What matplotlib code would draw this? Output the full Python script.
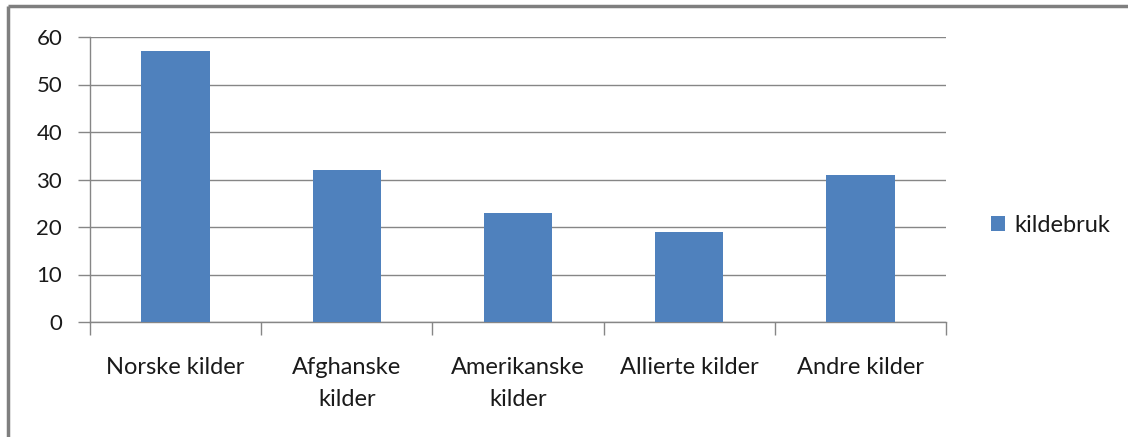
import numpy as np
import matplotlib.pyplot as plt
from matplotlib.patches import Patch

# kildebruk per kategori
categories = ['Norske kilder', 'Afghanske\nkilder', 'Amerikanske\nkilder', 'Allierte kilder', 'Andre kilder']
values = [57, 32, 23, 19, 31]
series_name = 'kildebruk'

bar_color = '#4F81BD'
grid_color = '#868686'
text_color = '#1a1a1a'

plt.rcParams['font.family'] = ['Lato', 'DejaVu Sans']

fig = plt.figure(figsize=(11.28, 4.37), dpi=100)
ax = fig.add_axes([90 / 1128, 1 - 322 / 437, (946 - 90) / 1128, (322 - 37) / 437])

x = np.arange(len(categories))
ax.bar(x, values, width=0.4, color=bar_color, zorder=3)

ax.set_xlim(-0.5, len(categories) - 0.5)
ax.set_ylim(0, 60)
ax.set_yticks(range(0, 61, 10))
ax.yaxis.grid(True, color=grid_color, linewidth=1, zorder=0)

ax.set_xticks(np.arange(-0.5, len(categories), 1.0))
ax.set_xticklabels([])
ax.set_xticks(x, minor=True)
ax.set_xticklabels(categories, minor=True, fontsize=17, color=text_color, linespacing=1.65)
ax.tick_params(axis='x', which='major', length=9, color=grid_color, width=1)
ax.tick_params(axis='x', which='minor', length=0, pad=25)
ax.tick_params(axis='y', length=9, color=grid_color, width=1, labelsize=16, pad=11, labelcolor=text_color)

for s in ['top', 'right']:
    ax.spines[s].set_visible(False)
for s in ['left', 'bottom']:
    ax.spines[s].set_color(grid_color)
    ax.spines[s].set_linewidth(1)

handles = [Patch(facecolor=bar_color, label=series_name)]
fig.legend(handles=handles, loc='center left', bbox_to_anchor=(970 / 1128, 1 - 225 / 437),
           frameon=False, fontsize=17, handlelength=0.6, handleheight=0.6, handletextpad=0.4,
           labelcolor=text_color)

# chart frame (only top and left edges show in the crop)
fig.add_artist(plt.Line2D([8 / 1128, 8 / 1128], [0, 1 - 6 / 437], color='#7f7f7f',
                          linewidth=2.5, solid_capstyle='butt'))
fig.add_artist(plt.Line2D([8 / 1128, 1], [1 - 6 / 437, 1 - 6 / 437], color='#7f7f7f',
                          linewidth=2.5, solid_capstyle='butt'))

fig.savefig('out.png', dpi=100)
